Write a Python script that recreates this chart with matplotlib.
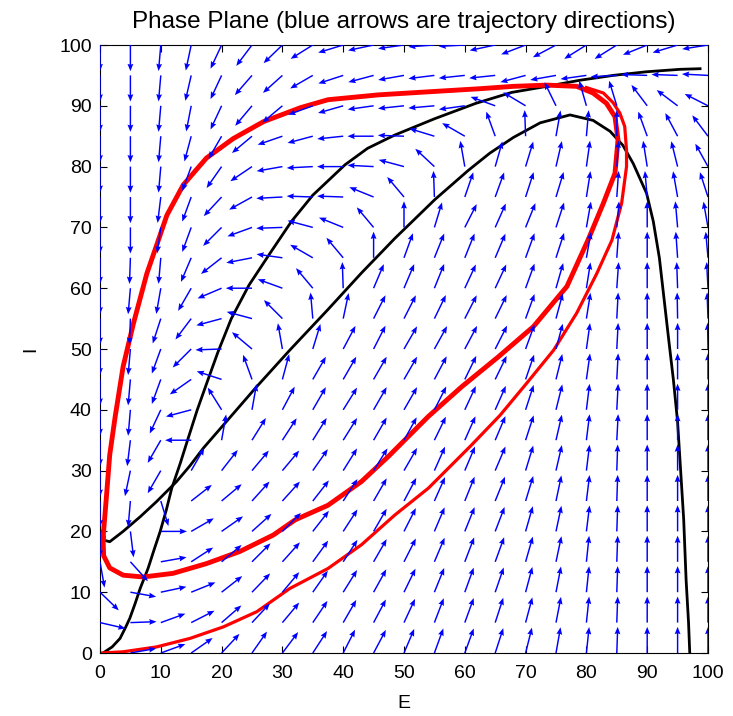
import matplotlib
matplotlib.use("Agg")
import matplotlib.pyplot as plt
import numpy as np

plt.rcParams['font.family'] = ['Liberation Sans', 'DejaVu Sans']

# grid of the direction field
E_grid = np.arange(0, 101, 5)
I_grid = np.arange(0, 101, 5)

# arrow directions, in degrees (0 = +E, 90 = +I)
# one row per I value, from I=100 (top) down to I=0; columns E=0..100
arrow_deg = [
    [270, 270, 265, 258, 245, 233, 224, 212, 197, 192, 188, 184, 183, 192, 201, 208, 212, 212, 202, 197, 189],  # I=100
    [270, 270, 265, 257, 245, 229, 222, 210, 198, 195, 190, 187, 186, 186, 195, 190, 188, 183, 178, 178, 177],  # I=95
    [270, 270, 265, 259, 245, 230, 220, 200, 196, 188, 186, 185, 188, 160, 149, 116, 106, 107, 127, 143, 153],  # I=90
    [270, 270, 265, 255, 240, 220, 199, 195, 186, 180, 178, 163, 150, 110, 92, 80, 85, 90, 110, 118, 127],      # I=85
    [270, 270, 265, 250, 235, 214, 190, 183, 180, 177, 165, 137, 100, 74, 73, 77, 82, 86, 99, 104, 119],       # I=80
    [270, 270, 263, 250, 227, 209, 183, 178, 178, 158, 130, 92, 71, 70, 72, 73, 81, 86, 95, 100, 108],         # I=75
    [270, 270, 262, 250, 225, 200, 182, 165, 158, 130, 90, 73, 63, 66, 68, 72, 80, 85, 90, 95, 100],           # I=70
    [270, 268, 265, 247, 218, 191, 172, 150, 130, 90, 70, 68, 68, 67, 70, 72, 80, 86, 90, 94, 95],             # I=65
    [270, 265, 260, 240, 203, 180, 160, 130, 92, 67, 67, 68, 65, 65, 70, 74, 81, 86, 90, 92, 93],              # I=60
    [270, 268, 252, 233, 195, 165, 135, 95, 78, 63, 63, 64, 63, 64, 70, 75, 81, 87, 90, 91, 92],               # I=55
    [270, 265, 250, 225, 182, 140, 100, 73, 62, 63, 60, 61, 62, 63, 70, 75, 82, 87, 90, 90, 91],               # I=50
    [270, 265, 250, 215, 162, 110, 75, 60, 60, 60, 60, 62, 64, 64, 71, 76, 82, 87, 90, 90, 90],                # I=45
    [270, 265, 245, 195, 122, 80, 62, 60, 58, 60, 60, 63, 65, 66, 72, 76, 83, 87, 90, 90, 90],                 # I=40
    [270, 263, 240, 180, 80, 58, 57, 58, 58, 60, 61, 64, 66, 67, 72, 77, 83, 87, 90, 90, 90],                  # I=35
    [270, 258, 240, 60, 52, 50, 50, 55, 58, 58, 60, 66, 67, 67, 73, 77, 83, 88, 90, 90, 90],                   # I=30
    [270, 265, 287, 38, 40, 48, 48, 52, 57, 60, 62, 66, 68, 68, 73, 78, 83, 88, 90, 90, 90],                   # I=25
    [270, 277, 0, 30, 35, 42, 45, 52, 57, 60, 63, 67, 68, 69, 74, 78, 83, 88, 90, 90, 90],                     # I=20
    [280, 312, 10, 33, 40, 45, 48, 54, 57, 60, 63, 67, 69, 70, 74, 78, 84, 88, 90, 90, 90],                    # I=15
    [316, 350, 12, 22, 38, 46, 50, 55, 58, 61, 64, 68, 70, 71, 75, 79, 84, 88, 90, 90, 90],                    # I=10
    [347, 2, 20, 27, 41, 47, 50, 56, 60, 62, 65, 69, 70, 72, 75, 79, 84, 88, 90, 90, 90],                      # I=5
    [np.nan, 10, 20, 35, 47, 55, 53, 57, 63, 62, 67, 70, 70, 72, 76, 80, 84, 88, 90, 90, 90],                  # I=0
]

# limit cycle (thick red)
loop_E = [0.5, 1.0, 1.6, 2.5, 3.8, 5.5, 7.7, 9.6, 11.0, 13.7, 17.5, 21.9, 26.9, 33.0, 37.5, 45.8,
          54.0, 62.3, 68.0, 73.5, 78.4, 81.1, 83.3, 84.7, 85.2, 84.7, 82.8, 80.3, 76.8, 71.3, 65.5,
          59.5, 54.0, 47.4, 43.0, 37.5, 32.1, 28.5, 23.0, 17.5, 12.0, 7.1, 3.8, 1.6, 0.6, 0.5]
loop_I = [18.9, 25.0, 32.6, 38.9, 47.1, 54.2, 62.4, 67.9, 72.0, 77.0, 81.4, 84.6, 87.4, 89.7, 91.0, 91.8,
          92.3, 92.8, 93.2, 93.4, 93.2, 92.1, 90.4, 88.2, 84.4, 78.9, 74.0, 68.0, 60.3, 53.7, 48.7,
          43.8, 38.9, 32.3, 28.2, 24.3, 21.9, 19.4, 16.7, 14.7, 13.1, 12.5, 12.8, 14.0, 16.0, 18.9]

# trajectory from the origin (thinner red)
traj_E = [0.3, 3.8, 9.3, 14.8, 20.3, 25.8, 31.2, 37.5, 43.0, 48.5, 54.0, 57.8, 61.1, 65.8, 70.2,
          74.6, 78.4, 81.7, 84.2, 85.8, 86.6, 86.6, 86.3, 85.5, 84.4, 82.8, 80.0]
traj_I = [0.0, 0.2, 1.0, 2.4, 4.3, 6.8, 10.6, 13.9, 17.8, 22.7, 27.1, 30.9, 34.2, 39.1, 44.4,
          49.8, 55.9, 62.4, 67.9, 74.0, 80.0, 82.7, 86.6, 88.8, 90.5, 92.1, 93.0]

# E nullcline (hump shaped)
ncE_E = [0.2, 0.5, 1.6, 3.8, 6.6, 9.3, 12.6, 14.8, 17.0, 20.3, 25.5, 31.2, 37.5, 43.0, 48.5,
         55.1, 60.6, 64.1, 68.0, 72.4, 77.3, 81.1, 83.9, 86.0, 87.7, 89.9, 91.0, 92.0, 92.8, 93.6,
         94.3, 95.0, 95.5, 96.0, 96.4, 96.8, 97.0]
ncE_I = [20.0, 18.6, 18.3, 20.0, 22.4, 24.9, 28.2, 30.8, 33.7, 37.5, 43.5, 49.8, 56.5, 62.5, 68.2,
         74.6, 79.4, 82.2, 84.8, 87.2, 88.5, 87.6, 85.8, 83.5, 80.5, 75.6, 71.0, 65.0, 58.0, 51.0,
         45.0, 38.0, 30.0, 22.0, 12.0, 5.0, 0.0]

# I nullcline (rising)
ncI_E = [0.5, 2.0, 3.3, 4.2, 4.9, 5.8, 6.6, 7.9, 8.9, 9.9, 10.9, 11.8, 13.2, 14.4, 16.0, 17.6,
         19.4, 21.6, 24.5, 28.0, 31.5, 35.0, 40.3, 44.0, 48.5, 55.1, 61.8, 67.7, 73.5, 78.9, 84.4,
         89.9, 95.4, 98.7]
ncI_I = [0.0, 1.0, 2.4, 4.2, 5.7, 8.2, 10.6, 13.9, 17.0, 20.0, 23.5, 27.1, 31.2, 35.0, 40.0, 44.5,
         49.5, 55.0, 60.5, 65.8, 71.0, 75.3, 80.3, 83.0, 85.2, 87.9, 90.4, 92.2, 93.2, 94.2, 95.0,
         95.6, 96.0, 96.1]

arrow_len = 4.3

fig = plt.figure(figsize=(7.33, 7.16), dpi=100)
ax = fig.add_axes([100/733, 63/716, 608/733, 608/716])

ax.plot(ncE_E, ncE_I, color='k', lw=2.0, zorder=2)
ax.plot(ncI_E, ncI_I, color='k', lw=2.0, zorder=2)
ax.plot(traj_E, traj_I, color='r', lw=2.3, zorder=2)
ax.plot(loop_E, loop_I, color='r', lw=3.5, zorder=2)

EE, II = np.meshgrid(E_grid, I_grid)
ang = np.radians(np.array(arrow_deg, dtype=float))[::-1]
U = arrow_len*np.cos(ang)
V = arrow_len*np.sin(ang)
ok = ~np.isnan(U)
ax.quiver(EE[ok], II[ok], U[ok], V[ok], angles='xy', scale_units='xy', scale=1,
          color='b', width=0.0024, headwidth=4, headlength=5, headaxislength=4.5, zorder=3)

ax.set_xlim(0, 100)
ax.set_ylim(0, 100)
ax.set_xticks(range(0, 101, 10))
ax.set_yticks(range(0, 101, 10))
ax.tick_params(direction='in', top=True, right=True, length=5, labelsize=14)
ax.tick_params(axis='x', pad=9)
ax.tick_params(axis='y', pad=6)
ax.set_xlabel('E', fontsize=14, labelpad=9)
ax.set_ylabel('I', fontsize=14, labelpad=14, rotation=90)
ax.set_title('Phase Plane (blue arrows are trajectory directions)', fontsize=17.5, pad=12)

fig.savefig('out.png', dpi=100)
